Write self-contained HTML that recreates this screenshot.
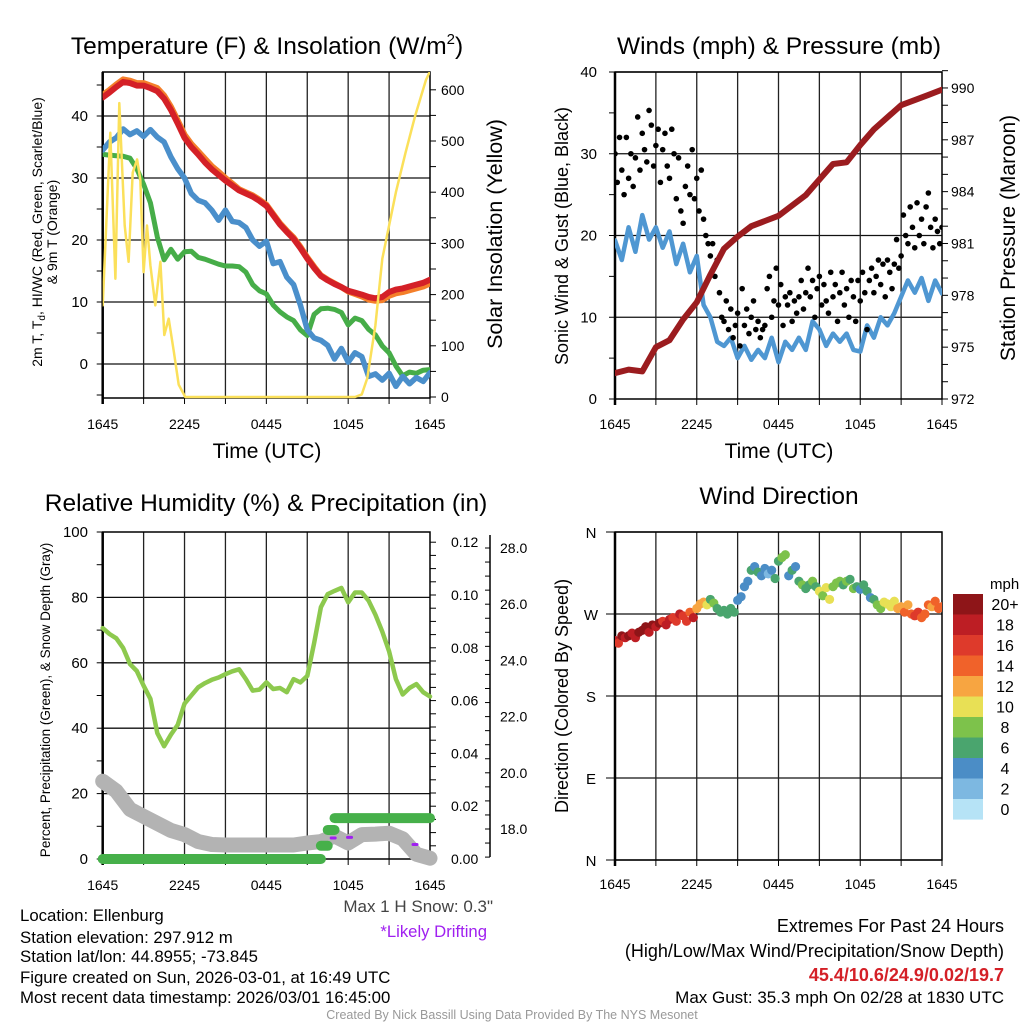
<!DOCTYPE html>
<html><head><meta charset="utf-8"><style>
html,body{margin:0;padding:0;background:#fff;}
svg{display:block;font-family:"Liberation Sans",Arial,sans-serif;}
</style></head><body>
<svg id="fig" width="1024" height="1024" viewBox="0 0 1024 1024">
<defs>
<clipPath id="c1"><rect x="102.7" y="72" width="327.3" height="327"/></clipPath>
<clipPath id="c2"><rect x="615" y="72" width="327" height="327"/></clipPath>
<clipPath id="c3"><rect x="90" y="520" width="352" height="352"/></clipPath>
<clipPath id="c4"><rect x="615" y="526" width="327" height="340"/></clipPath>
</defs>
<g id="g1"></g>
<g id="g2"></g>
<g id="g3"></g>
<g id="g4"></g>
<g id="txt">
<text x="267" y="54" font-size="24.5" text-anchor="middle">Temperature (F) &amp; Insolation (W/m<tspan font-size="15" dy="-10">2</tspan><tspan dy="10">)</tspan></text>
<text x="779" y="54" font-size="24.5" text-anchor="middle">Winds (mph) &amp; Pressure (mb)</text>
<text x="266" y="511" font-size="24.5" text-anchor="middle">Relative Humidity (%) &amp; Precipitation (in)</text>
<text x="779" y="504" font-size="24.5" text-anchor="middle">Wind Direction</text>
<text transform="translate(42,232) rotate(-90)" font-size="14" text-anchor="middle">2m T, T<tspan font-size="10" dy="3">d</tspan><tspan dy="-3">, HI/WC (Red, Green, Scarlet/Blue)</tspan></text>
<text transform="translate(57,232) rotate(-90)" font-size="14" text-anchor="middle">&amp; 9m T (Orange)</text>
<text transform="translate(502,234) rotate(-90)" font-size="21.5" text-anchor="middle">Solar Insolation (Yellow)</text>
<text x="267" y="458" font-size="21" text-anchor="middle">Time (UTC)</text>
<text x="779" y="458" font-size="21" text-anchor="middle">Time (UTC)</text>
<text transform="translate(568,236) rotate(-90)" font-size="18" text-anchor="middle">Sonic Wind &amp; Gust (Blue, Black)</text>
<text transform="translate(1015,238) rotate(-90)" font-size="21" text-anchor="middle">Station Pressure (Maroon)</text>
<text transform="translate(50,700) rotate(-90)" font-size="13.5" text-anchor="middle">Percent, Precipitation (Green), &amp; Snow Depth (Gray)</text>
<text transform="translate(568,696) rotate(-90)" font-size="18" text-anchor="middle">Direction (Colored By Speed)</text>
<text x="493" y="912" font-size="17" fill="#444" text-anchor="end">Max 1 H Snow: 0.3"</text>
<text x="487" y="937" font-size="16.7" fill="#a020f0" text-anchor="end">*Likely Drifting</text>
<g font-size="16.8">
<text x="20" y="921">Location: Ellenburg</text>
<text x="20" y="943">Station elevation: 297.912 m</text>
<text x="20" y="962">Station lat/lon: 44.8955; -73.845</text>
<text x="20" y="983">Figure created on Sun, 2026-03-01, at 16:49 UTC</text>
<text x="20" y="1003">Most recent data timestamp: 2026/03/01 16:45:00</text>
</g>
<g text-anchor="end">
<text x="1004" y="932" font-size="18">Extremes For Past 24 Hours</text>
<text x="1004" y="957" font-size="18">(High/Low/Max Wind/Precipitation/Snow Depth)</text>
<text x="1004" y="981" font-size="18" fill="#d42027" font-weight="bold">45.4/10.6/24.9/0.02/19.7</text>
<text x="1004" y="1003" font-size="17">Max Gust: 35.3 mph On 02/28 at 1830 UTC</text>
</g>
<text x="512" y="1019" font-size="12.5" fill="#999" text-anchor="middle">Created By Nick Bassill Using Data Provided By The NYS Mesonet</text>
<text x="990" y="589" font-size="15">mph</text>
</g>
</svg>
<script>
// ---- data ----
var xLabels = ["1645","2245","0445","1045","1645"];
var tempT = [43.0,43.8,44.7,45.5,45.3,44.9,44.9,44.5,44.0,42.8,41.0,38.8,36.5,35.0,33.8,32.5,31.4,30.5,29.6,28.8,28.0,27.5,27.0,26.3,25.5,24.0,22.5,21.3,20.2,18.7,17.0,15.5,14.2,13.5,12.9,12.4,11.8,11.5,11.2,10.8,10.6,10.8,11.6,12.0,12.2,12.5,12.8,13.1,13.6];
var temp9m = [43.4,44.2,45.1,45.9,45.7,45.3,45.3,44.9,44.5,43.3,41.5,39.3,37.0,35.5,34.3,33.1,31.9,31.0,30.0,29.1,28.2,27.7,27.2,26.5,25.7,24.2,22.7,21.5,20.4,18.9,17.2,15.7,14.3,13.6,13.0,12.4,11.7,11.3,10.9,10.4,10.2,10.3,11.0,11.4,11.6,11.9,12.2,12.5,13.0];
var tempWC = [34.5,35.8,36.5,37.9,37.0,37.6,36.7,37.8,36.6,35.8,33.4,31.5,30.0,27.5,26.4,26.0,24.8,23.2,24.8,23.0,22.8,22.0,20.0,19.0,19.8,16.2,16.5,14.0,12.8,9.5,5.5,4.2,3.8,3.0,0.8,2.5,0.3,1.8,1.2,-2.0,-1.6,-2.6,-1.5,-3.6,-2.0,-3.2,-2.2,-2.8,-1.4];
var tempTd = [33.8,33.7,33.6,33.5,33.2,31.5,29.0,26.0,20.5,16.8,18.5,16.9,18.1,18.2,17.2,16.9,16.5,16.1,15.8,15.8,15.7,14.8,12.8,11.8,11.3,9.5,8.4,7.6,7.0,5.5,4.6,8.0,8.9,9.0,8.8,8.3,6.3,7.4,7.0,5.6,4.7,2.9,1.8,-0.3,-1.9,-1.3,-1.5,-1.0,-0.9];
var solarHours = [0,0.56,0.93,1.22,1.61,1.9,2.2,2.52,2.76,3.0,3.25,3.5,3.86,4.23,4.52,4.84,5.21,5.57,6.06,18.5,19.0,19.4,20.0,20.5,21.0,21.5,22.2,22.9,23.7,24];
var solarVals = [179,516,231,574,335,264,438,464,425,244,335,257,179,264,121,153,89,24,0,0,5,37,140,270,335,400,477,548,619,636];
var sonicWind = [19.4,17.0,21.0,18.0,22.5,19.5,21.0,18.5,20.5,16.5,19.0,15.5,17.5,11.5,10.0,7.0,6.5,7.5,5.0,6.5,4.8,6.0,5.0,7.5,4.5,7.0,6.0,7.5,6.0,9.5,8.5,6.5,8.0,7.0,8.0,6.0,5.8,9.0,7.5,10.0,9.0,10.5,12.5,14.5,13.0,14.8,12.0,14.5,12.9];
var gusts = [30,26.5,32,28,25,32,27,30,26,29.5,34.5,28,32.5,30.5,29,35.3,33.5,28.5,31,33,26.5,30.5,32.5,28.5,
27,33,30,24.5,29.5,23,21.5,26,28.5,25,30.5,24.5,
27,23,28,22,20,19, 17.5,19,15,17,13,10, 9.5,12,8.5,11,7.5,9, 10.5,6.5,13.5,9,11,8,
10,12,8.5,9.5,7.5,8.5, 9,13.5,15,10,12,16, 11.5,14,9,12.5,11.5,13, 9.5,12,10.5,12.5,14.5,11,
13,16,12.5,14.5,10,13.5, 15,11.5,14,12,10.5,15.5, 12.5,14,9.5,13,15.5,11.5, 13.5,10,14.5,12.5,9.5,14.5,
12,15.5,13,8.5,14.5,16, 13,15,17,14,16.5,12.5, 17,15.5,13.5,16.5,19.5,16, 17.5,22.5,20,19,23.5,21,
18.5,24,20,22,19,23.5, 25.2,21,18.5,22,20.5,19,21];
var pressure = [973.5,973.7,973.6,975.0,975.4,976.6,977.6,979.2,980.7,981.4,982.0,982.3,982.6,983.2,983.8,984.7,985.6,985.7,986.7,987.6,988.3,989.0,989.3,989.6,989.9];
var relHum = [70.6,68.8,67.5,64.5,59.6,57.5,53,49,38.5,34.5,38,41,47.5,50,52.5,53.8,54.8,55.5,56.5,57.4,58,55,51.5,51.8,54,52,52.3,51,55,54,56,66,77,81,82,82.9,78.5,81.5,81.5,79,74.7,69.5,63.5,55,50.3,52.3,53.5,51,49.7];
var snowDepth = [19.7,19.35,18.7,18.45,18.2,17.95,17.8,17.55,17.45,17.43,17.43,17.43,17.43,17.43,17.43,17.5,17.55,17.75,17.5,17.8,17.82,17.85,17.65,17.1,16.96];
var precip = [0,0,0,0,0,0,0,0,0,0,0,0,0,0,0,0,0,0,0,0,0,0,0,0,0,0,0,0,0,0,0,0,0.005,0.011,0.0155,0.0155,0.0155,0.0155,0.0155,0.0155,0.0155,0.0155,0.0155,0.0155,0.0155,0.0155,0.0155,0.0155,0.0155];
var driftHours = [16.9,18.1,22.9];
var driftSnow = [17.68,17.7,17.45];
var windDir = [241,238,246,244,246,249,244,250,252,256,250,258,256,260,262,258,264,266,262,270,268,262,272,266,276,281,283,280,286,282,276,272,274,270,276,272,285,289,300,306,318,322,316,312,320,314,318,309,328,332,335,312,318,322,306,302,298,302,306,300,295,290,299,286,300,304,306,302,306,308,298,300,297,302,295,288,286,280,276,283,281,278,284,276,278,272,280,270,268,272,266,270,280,278,284,276,278];
var windSpd = [19,17,20,18,20,18,19,21,21,20,19,22,18,20,17,19,18,17,16,18,16,17,15,18,12,13,12,11,7,8,6,7,6,7,6,6,4,5,5,4,6,5,6,4,4,3,4,7,7,8,9,4,6,5,6,8,7,6,8,6,10,9,10,10,8,8,9,7,8,7,8,6,5,6,7,4,7,8,9,10,10,11,10,12,13,14,12,15,16,17,15,14,14,13,15,14,14];
var cbLabels = ["20+","18","16","14","12","10","8","6","4","2","0"];
var cbColors = ["#8e1518","#bd1e24","#de3a2b","#f0622a","#f7a541","#e8e055","#7dc24b","#4aa56e","#4b8dc6","#7db8e1","#b6e3f6"];

// ---- helpers ----
var NS="http://www.w3.org/2000/svg";
function mk(tag, attrs, parent){var e=document.createElementNS(NS,tag);for(var k in attrs)e.setAttribute(k,attrs[k]);parent.appendChild(e);return e;}
function txt(s,x,y,size,anchor,parent){var t=mk("text",{x:x,y:y,"font-size":size,"text-anchor":anchor},parent);t.textContent=s;return t;}
function xs(x0,x1){return function(h){return x0+h*(x1-x0)/24;};}
function pathD(xsArr,ysArr){var d="";for(var i=0;i<xsArr.length;i++)d+=(i?"L":"M")+xsArr[i].toFixed(1)+","+ysArr[i].toFixed(1);return d;}
function series(vals,step,xf,yf){var X=[],Y=[];for(var i=0;i<vals.length;i++){X.push(xf(i*step));Y.push(yf(vals[i]));}return pathD(X,Y);}
function frame(g,x0,x1,yTop,yBot,hGrid,hasLabelsBelow){
  hGrid.forEach(function(y){var l=mk("line",{x1:x0,x2:x1,y1:y,y2:y,stroke:"#111","stroke-width":1.3},g);
    
    });
  for(var h=3;h<24;h+=3){var x=x0+h*(x1-x0)/24;var l=mk("line",{x1:x,x2:x,y1:yTop,y2:yBot,stroke:"#222","stroke-width":1.3},g);
    
    
    mk("line",{x1:x,x2:x,y1:yBot,y2:yBot+6,stroke:"#000","stroke-width":1},g);}
  mk("line",{x1:x0,x2:x0,y1:yBot+6,y2:yBot,stroke:"#000","stroke-width":1},g);
  mk("line",{x1:x1,x2:x1,y1:yBot+6,y2:yBot,stroke:"#000","stroke-width":1},g);
  mk("rect",{x:x0,y:yTop,width:x1-x0,height:yBot-yTop,fill:"none",stroke:"#000","stroke-width":1.5},g);
  mk("line",{x1:x0,x2:x0,y1:yTop,y2:yBot+6,stroke:"#000","stroke-width":2.5},g);
  for(var i=0;i<xLabels.length;i++){var t=txt(xLabels[i],x0+i*(x1-x0)/4,yBot+hasLabelsBelow,14,"middle",g);
    
    }
}
function ticks(g,x,ys,len){ys.forEach(function(y){mk("line",{x1:x,x2:x+len,y1:y,y2:y,stroke:"#000","stroke-width":1},g);});}

// ---- panel 1 ----
(function(){
  var g=document.getElementById("g1"),x0=102.7,x1=430,yTop=72,yBot=398;
  var X=xs(x0,x1), yT=function(v){return 364-v*6.2;}, yS=function(v){return 397-v*0.512;};
  var grid=[0,10,20,30,40].map(yT);
  frame(g,x0,x1,yTop,yBot,grid,31);
  var minor=[];for(var v=-5;v<=45;v+=5)minor.push(yT(v));ticks(g,x0,minor,-6);
  [0,10,20,30,40].forEach(function(v){var t=txt(String(v),88,yT(v)+5,15,"end",g);
    
    });
  var rm=[];for(var s=0;s<=600;s+=50)rm.push(yS(s));ticks(g,x1,rm,6);
  [0,100,200,300,400,500,600].forEach(function(v){var t=txt(String(v),441,yS(v)+5,14,"start",g);
    
    });
  var c=mk("g",{"clip-path":"url(#c1)",fill:"none","stroke-linejoin":"round","stroke-linecap":"round"},g);
  var p;
  p=mk("path",{d:series(temp9m,0.5,X,yT),stroke:"#f47f2a","stroke-width":6},c);
  
  
  p=mk("path",{d:series(tempT,0.5,X,yT),stroke:"#d42027","stroke-width":6},c);
  
  
  p=mk("path",{d:series(tempTd,0.5,X,yT),stroke:"#46ad48","stroke-width":5},c);
  
  
  p=mk("path",{d:series(tempWC,0.5,X,yT),stroke:"#4a8fcb","stroke-width":5.5},c);
  
  
  var SX=solarHours.map(X), SY=solarVals.map(yS);
  p=mk("path",{d:pathD(SX,SY),stroke:"#fbe05a","stroke-width":2.5},c);
  
  
})();

// ---- panel 2 ----
(function(){
  var g=document.getElementById("g2"),x0=615,x1=942,yTop=72,yBot=399;
  var X=xs(x0,x1), yW=function(v){return 399-v*8.175;}, yP=function(v){return 399-(v-972)*17.28;};
  frame(g,x0,x1,yTop,yBot,[10,20,30,40].map(yW),30);
  var minor=[];for(var v=0;v<=40;v+=5)minor.push(yW(v));ticks(g,x0,minor,-6);
  [0,10,20,30,40].forEach(function(v){var t=txt(String(v),597,yW(v)+5,15,"end",g);
    
    });
  var rm=[];for(var s=972;s<=991;s+=1)rm.push(yP(s));ticks(g,x1,rm,6);
  [972,975,978,981,984,987,990].forEach(function(v){var t=txt(String(v),951,yP(v)+5,14,"start",g);
    
    });
  var c=mk("g",{"clip-path":"url(#c2)","stroke-linejoin":"round","stroke-linecap":"round"},g);
  var p=mk("path",{d:series(sonicWind,0.5,X,yW),stroke:"#4f97d2","stroke-width":4.5,fill:"none"},c);
  
  
  for(var i=0;i<gusts.length;i++){
    var d=mk("circle",{cx:X(i*24/(gusts.length-1)),cy:yW(gusts[i]),r:2.8,fill:"#000"},c);
    
    
  }
  p=mk("path",{d:series(pressure,1,X,yP),stroke:"#9b1c1f","stroke-width":6,fill:"none"},c);
  
  
})();

// ---- panel 3 ----
(function(){
  var g=document.getElementById("g3"),x0=102.7,x1=430,yTop=532,yBot=859;
  var X=xs(x0,x1), yR=function(v){return 859-v*3.27;}, yPr=function(v){return 859-v*2640;}, ySn=function(v){return 548+(28-v)*28.1;};
  frame(g,x0,x1,yTop,yBot,[20,40,60,80].map(yR),31);
  var minor=[];for(var v=0;v<=100;v+=10)minor.push(yR(v));ticks(g,x0,minor,-6);
  [0,20,40,60,80,100].forEach(function(v){var t=txt(String(v),88,yR(v)+5,15,"end",g);
    
    });
  var rm=[];for(var s=0;s<=0.1201;s+=0.005)rm.push(yPr(s));ticks(g,x1,rm,6);
  [0,0.02,0.04,0.06,0.08,0.1,0.12].forEach(function(v){var t=txt(v.toFixed(2),451,yPr(v)+5,14,"start",g);
    
    });
  mk("line",{x1:490,x2:490,y1:535,y2:857,stroke:"#000","stroke-width":1.5},g);
  var sm=[];for(var s=17;s<=28.4;s+=0.5)sm.push(ySn(s));ticks(g,490,sm,-5);
  [18,20,22,24,26,28].forEach(function(v){var t=txt(v.toFixed(1),500,ySn(v)+5,14,"start",g);
    
    });
  var c=mk("g",{"clip-path":"url(#c3)","stroke-linejoin":"round","stroke-linecap":"round",fill:"none"},g);
  var p=mk("path",{d:series(snowDepth,1,X,ySn),stroke:"#b3b3b3","stroke-width":15},c);
  
  
  var start=0;
  for(var i=1;i<=precip.length;i++){
    if(i==precip.length||precip[i]!==precip[start]){
      var b=mk("line",{x1:X(start*0.5),x2:X(Math.max(i-1,start)*0.5+(i==precip.length?0:0.5)),y1:yPr(precip[start]),y2:yPr(precip[start]),stroke:"#46b04a","stroke-width":10},c);
      
      
      start=i;
    }
  }
  for(var j=0;j<driftHours.length;j++){
    var dl=mk("line",{x1:X(driftHours[j])-2,x2:X(driftHours[j])+2,y1:ySn(driftSnow[j]),y2:ySn(driftSnow[j]),stroke:"#a020f0","stroke-width":3},c);
    
    
  }
  p=mk("path",{d:series(relHum,0.5,X,yR),stroke:"#8dc94e","stroke-width":4.5},c);
  
  
})();

// ---- panel 4 ----
(function(){
  var g=document.getElementById("g4"),x0=615,x1=942,yTop=532,yBot=860;
  var X=xs(x0,x1), yD=function(v){return 860-v*328/360;};
  frame(g,x0,x1,yTop,yBot,[0,90,180,270,360].map(yD),29);
  ["N","E","S","W","N"].forEach(function(s,i){var t=txt(s,591,yD(i*90)+6,15,"middle",g);
    
    
    mk("line",{x1:x0-9,x2:x0,y1:yD(i*90),y2:yD(i*90),stroke:"#000","stroke-width":1},g);});
  var c=mk("g",{"clip-path":"url(#c4)"},g);
  for(var i=0;i<windDir.length;i++){
    var k=Math.min(10,Math.floor(windSpd[i]/2));
    var d=mk("circle",{cx:X(i*0.25),cy:yD(windDir[i]),r:4.6,fill:cbColors[10-k]},c);
    
    
  }
  for(var j=0;j<cbColors.length;j++){
    var r=mk("rect",{x:953,y:594+j*20.5,width:30,height:20.6,fill:cbColors[j]},g);
    
    
    var t=txt(cbLabels[j],1005,594+j*20.5+16,16,"middle",g);
    
    
  }
})();
</script>
</body></html>
